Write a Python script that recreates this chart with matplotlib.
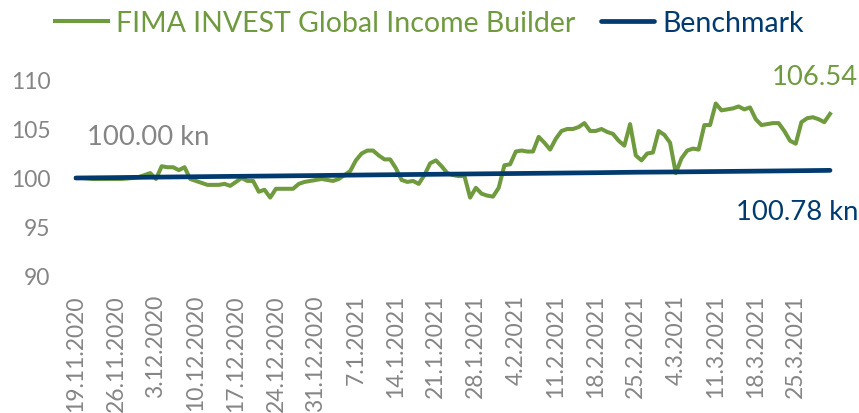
import matplotlib
matplotlib.use("Agg")
import matplotlib.pyplot as plt
import pandas as pd

start_date = "2020-11-19"
fund_label = "FIMA INVEST Global Income Builder"
bench_label = "Benchmark"

fund = [100.00, 100.00, 99.95, 99.9, 99.9, 99.9, 99.9, 99.9, 99.9, 99.95,
        100.0, 100.1, 100.3, 100.5, 99.9, 101.2, 101.1, 101.1, 100.8, 101.1,
        99.9, 99.7, 99.5, 99.3, 99.3, 99.3, 99.4, 99.2, 99.6, 100.0,
        99.7, 99.7, 98.6, 98.8, 98.0, 98.9, 98.9, 98.9, 98.9, 99.4,
        99.6, 99.7, 99.8, 99.9, 99.8, 99.7, 99.9, 100.3, 100.7, 101.8,
        102.5, 102.8, 102.8, 102.3, 101.9, 101.9, 101.0, 99.8, 99.6, 99.7,
        99.4, 100.3, 101.5, 101.8, 101.2, 100.5, 100.3, 100.2, 100.2, 98.0,
        99.0, 98.4, 98.2, 98.1, 99.0, 101.3, 101.4, 102.7, 102.8, 102.7,
        102.7, 104.2, 103.6, 102.9, 104.0, 104.8, 105.0, 105.0, 105.2, 105.6,
        104.8, 104.8, 105.0, 104.7, 104.5, 103.8, 103.3, 105.5, 102.3, 101.8,
        102.5, 102.6, 104.8, 104.4, 103.6, 100.5, 102.0, 102.8, 103.0, 102.9,
        105.4, 105.4, 107.6, 106.9, 107.0, 107.1, 107.3, 107.0, 107.2, 106.0,
        105.4, 105.5, 105.6, 105.6, 104.8, 103.8, 103.5, 105.7, 106.1, 106.2,
        106.0, 105.7, 106.54]

bench_dates = ["2020-11-19", "2020-11-26", "2020-12-03", "2020-12-10", "2020-12-17",
               "2020-12-24", "2020-12-31", "2021-01-07", "2021-01-14", "2021-01-21",
               "2021-01-28", "2021-02-04", "2021-02-11", "2021-02-18", "2021-02-25",
               "2021-03-04", "2021-03-11", "2021-03-18", "2021-03-25", "2021-03-31"]
bench = [100.00, 100.04, 100.09, 100.13, 100.17, 100.21, 100.25, 100.30, 100.34, 100.38,
         100.42, 100.46, 100.50, 100.54, 100.59, 100.62, 100.66, 100.70, 100.74, 100.78]

tick_labels = ["19.11.2020", "26.11.2020", "3.12.2020", "10.12.2020", "17.12.2020",
               "24.12.2020", "31.12.2020", "7.1.2021", "14.1.2021", "21.1.2021",
               "28.1.2021", "4.2.2021", "11.2.2021", "18.2.2021", "25.2.2021",
               "4.3.2021", "11.3.2021", "18.3.2021", "25.3.2021"]
yticks = [90, 95, 100, 105, 110]

start_label = "100.00 kn"
fund_end_label = "106.54"
bench_end_label = "100.78 kn"

GREEN = "#6F9A3D"
NAVY = "#003A6E"
GRAY = "#858585"
FONT = ["Lato", "DejaVu Sans"]

plt.rcParams["font.family"] = FONT

dates = pd.date_range(start_date, periods=len(fund), freq="D")
bdates = pd.to_datetime(bench_dates)

fig = plt.figure(figsize=(8.59, 4.14), dpi=100)
ax = fig.add_axes([76 / 859, (414 - 277) / 414, (830 - 76) / 859, (277 - 81) / 414])

ax.plot(dates, fund, color=GREEN, lw=2.9, solid_joinstyle="round", label=fund_label, clip_on=False)
ax.plot(bdates, bench, color=NAVY, lw=3.4, solid_capstyle="round", label=bench_label, clip_on=False)

ax.set_ylim(90, 110)
ax.set_xlim(dates[0], dates[-1])
ax.set_yticks(yticks)
ax.set_yticklabels([str(v) for v in yticks], color=GRAY, fontsize=16.5)
ticks = dates[::7][:len(tick_labels)]
ax.set_xticks(ticks)
ax.set_xticklabels(tick_labels, rotation=90, color=GRAY, fontsize=16.5, va="top", ha="center")
ax.tick_params(axis="both", length=0)
ax.tick_params(axis="x", pad=13)
ax.tick_params(axis="y", pad=18.5)
for s in ax.spines.values():
    s.set_visible(False)

ax.text(dates[2], 104.2, start_label, color=GRAY, fontsize=19.7, ha="left", va="center")
fig.text(858 / 859, 1 - 212 / 414, bench_end_label, color=NAVY, fontsize=19.7, ha="right", va="center")
fig.text(858 / 859, 1 - 78 / 414, fund_end_label, color=GREEN, fontsize=19.7, ha="right", va="center")

leg = fig.legend(loc="center", bbox_to_anchor=(0.5, 1 - 24 / 414), ncol=2, frameon=False,
                 fontsize=20.5, handlelength=1.86, handletextpad=0.28, columnspacing=0.9,
                 labelcolor="linecolor")

fig.savefig("out.png", dpi=100)
